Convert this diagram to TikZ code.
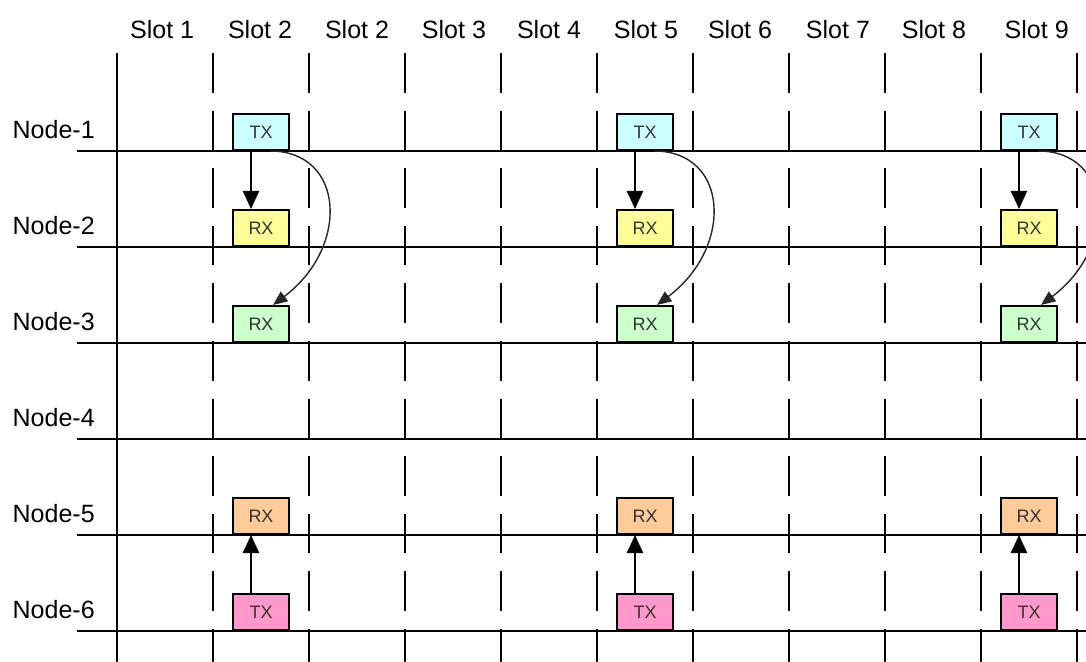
\documentclass[tikz,border=0pt]{standalone}
\usepackage{fontspec}
\setmainfont{Liberation Sans}
\usetikzlibrary{arrows.meta,positioning}
\definecolor{txCyan}{HTML}{CCFFFF}
\definecolor{rxYellow}{HTML}{FFFF99}
\definecolor{rxGreen}{HTML}{CCFFCC}
\definecolor{rxOrange}{HTML}{FFCC99}
\definecolor{txPink}{HTML}{FF99CC}
\tikzset{
  gridline/.style={line width=0.5mm, black},
  slotline/.style={gridline, dash pattern=on 9.9mm off 4.5mm},
  slotbox/.style={
    draw, line width=0.5mm, anchor=south, inner sep=0pt,
    minimum width=14mm, minimum height=9mm,
    font=\fontsize{12.8}{14}\selectfont, text=black!80
  },
  slotlabel/.style={font=\fontsize{17.8}{20}\selectfont},
  rowlabel/.style={font=\fontsize{17.8}{20}\selectfont, anchor=west, inner sep=0pt},
  hop/.style={-{Triangle[length=4.5mm,width=4mm]}, line width=0.5mm},
  hoparc/.style={-{Triangle[length=3.6mm,width=3mm]}, line width=0.35mm, black!85}
}

\begin{document}
\begin{tikzpicture}[x=2.4cm,y=2.4cm]
  \useasboundingbox (-1.21875,0.572917) rectangle (10.09375,-6.322917);
  % slot boundaries
  \draw[gridline] (0,0.02) -- (0,-6.4);
  \foreach \k in {1,...,10}
    \draw[slotline] (\k,0.02) -- (\k,-6.4);
  % node rows
  \foreach \r in {1,...,6} {
    \draw[gridline] (-0.417,-\r) -- (10.2,-\r);
    \node[rowlabel] (row\r) at (-1.09,-\r+0.22) {Node-\r};
  }
  % slot headings
  \foreach \lbl/\x [count=\k] in {Slot 1/0.47, Slot 2/1.49, Slot 2/2.5, Slot 3/3.51,
      Slot 4/4.5, Slot 5/5.51, Slot 6/6.49, Slot 7/7.51, Slot 8/8.51, Slot 9/9.58}
    \node[slotlabel] (head\k) at (\x,0.27) {\lbl};
  % active slots
  \foreach \c/\s in {1.5/a, 5.5/b, 9.5/c} {
    \node[slotbox, fill=txCyan] (tx1\s) at (\c,-1) {TX};
    \node[slotbox, fill=rxYellow] (rx2\s) at (\c,-2) {RX};
    \node[slotbox, fill=rxGreen] (rx3\s) at (\c,-3) {RX};
    \node[slotbox, fill=rxOrange] (rx5\s) at (\c,-5) {RX};
    \node[slotbox, fill=txPink] (tx6\s) at (\c,-6) {TX};
    \draw[hop] ([xshift=-2.5mm]tx1\s.south) -- ([xshift=-2.5mm]rx2\s.north);
    \draw[hoparc] ([xshift=2.25mm]tx1\s.south) .. controls +(18.75mm,0) and +(19.25mm,14.5mm) .. ([xshift=3mm]rx3\s.north);
    \draw[hop] ([xshift=-2.5mm]tx6\s.north) -- ([xshift=-2.5mm]rx5\s.south);
  }
\end{tikzpicture}
\end{document}
